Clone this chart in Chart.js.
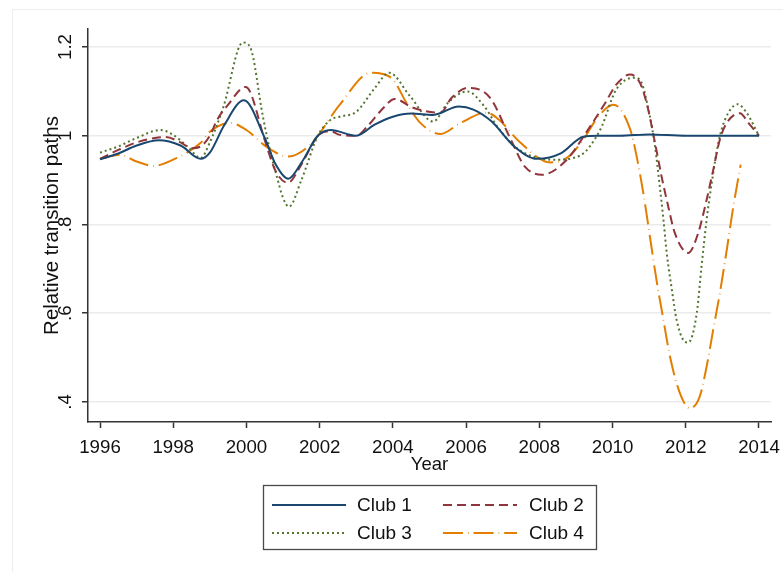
<!DOCTYPE html>
<html>
<head>
<meta charset="utf-8">
<script src="https://cdn.jsdelivr.net/npm/chart.js@4.4.1/dist/chart.umd.min.js"></script>
<style>
  html, body { margin: 0; padding: 0; background: #ffffff; }
  #wrap { width: 783px; height: 572px; position: relative; }
</style>
</head>
<body>
<div id="wrap"><canvas id="c" width="783" height="572"></canvas></div>
<script>
// Relative transition paths of four convergence clubs, 1996-2014
const clubNames = ['Club 1', 'Club 2', 'Club 3', 'Club 4'];

const yearTicks = [1996, 1998, 2000, 2002, 2004, 2006, 2008, 2010, 2012, 2014];
const valueTicks = [0.4, 0.6, 0.8, 1.0, 1.2];
const valueLabels = ['.4', '.6', '.8', '1', '1.2'];

const club1Years = [1996, 1996.5, 1997, 1997.6, 1998.2, 1998.75, 1999.0, 1999.4, 1999.93, 2000.5, 2000.8, 2001.14, 2001.5, 2001.95, 2002.3, 2003.0, 2003.5, 2004.0, 2004.5, 2005.1, 2005.8, 2006.2, 2006.7, 2007.3, 2007.94, 2008.6, 2009.2, 2009.6, 2010.2, 2011.0, 2012.0, 2013.0, 2014.0];
const club1Values = [0.947, 0.960, 0.978, 0.990, 0.978, 0.948, 0.962, 1.025, 1.080, 0.995, 0.935, 0.903, 0.939, 1.000, 1.013, 1.000, 1.025, 1.043, 1.050, 1.047, 1.066, 1.059, 1.032, 0.977, 0.948, 0.961, 0.998, 1.000, 1.000, 1.003, 1.000, 1.000, 1.000];

const club2Years = [1996, 1996.5, 1997, 1997.5, 1997.8, 1998.2, 1998.5, 1998.75, 1999.0, 1999.2, 1999.5, 1999.97, 2000.1, 2000.5, 2000.8, 2001.13, 2001.5, 2001.95, 2002.3, 2002.55, 2003.0, 2003.3, 2003.7, 2004.05, 2004.55, 2005.3, 2005.6, 2006.05, 2006.65, 2007.2, 2007.6, 2008.07, 2008.75, 2009.3, 2009.8, 2010.1, 2010.48, 2010.75, 2010.93, 2011.16, 2011.34, 2011.52, 2011.7, 2012.07, 2012.34, 2012.57, 2012.75, 2012.93, 2013.12, 2013.48, 2013.71, 2014];
const club2Values = [0.948, 0.968, 0.985, 0.995, 0.997, 0.985, 0.972, 0.976, 1.000, 1.036, 1.070, 1.110, 1.099, 0.990, 0.920, 0.894, 0.935, 1.000, 1.010, 1.002, 1.000, 1.021, 1.059, 1.083, 1.063, 1.052, 1.085, 1.108, 1.086, 0.995, 0.931, 0.912, 0.946, 1.010, 1.074, 1.115, 1.138, 1.119, 1.074, 0.984, 0.908, 0.841, 0.781, 0.736, 0.781, 0.856, 0.923, 0.991, 1.029, 1.051, 1.029, 1.000];

const club3Years = [1996, 1996.5, 1997, 1997.65, 1998.0, 1998.4, 1998.75, 1999.0, 1999.37, 1999.9, 2000.1, 2000.45, 2000.64, 2000.83, 2001.0, 2001.16, 2001.5, 2001.95, 2002.3, 2002.55, 2003.0, 2003.5, 2003.9, 2004.47, 2005.1, 2005.5, 2006.03, 2006.5, 2006.85, 2007.4, 2008.4, 2009.1, 2009.66, 2010.1, 2010.6, 2010.75, 2011.02, 2011.16, 2011.29, 2011.39, 2011.48, 2011.62, 2011.75, 2011.93, 2012.07, 2012.3, 2012.43, 2012.57, 2012.71, 2012.89, 2013.07, 2013.42, 2013.66, 2014];
const club3Values = [0.962, 0.976, 0.995, 1.013, 1.002, 0.975, 0.950, 0.985, 1.065, 1.210, 1.200, 1.043, 0.968, 0.908, 0.860, 0.840, 0.900, 1.000, 1.036, 1.043, 1.054, 1.107, 1.142, 1.089, 1.032, 1.074, 1.100, 1.066, 1.021, 0.971, 0.946, 0.955, 1.013, 1.104, 1.131, 1.126, 1.044, 0.976, 0.886, 0.811, 0.736, 0.653, 0.585, 0.540, 0.534, 0.600, 0.705, 0.811, 0.894, 0.984, 1.036, 1.071, 1.052, 1.000];

const club4Years = [1996, 1996.55, 1997, 1997.45, 1998.1, 1998.75, 1999.0, 1999.55, 2000.0, 2000.55, 2001.15, 2001.75, 2001.95, 2002.55, 2003.4, 2003.95, 2004.4, 2004.75, 2005.3, 2005.85, 2006.55, 2006.9, 2007.45, 2008.3, 2008.75, 2009.2, 2009.58, 2010.02, 2010.48, 2010.66, 2010.84, 2011.02, 2011.2, 2011.39, 2011.57, 2011.84, 2012.11, 2012.38, 2012.57, 2012.75, 2012.93, 2013.12, 2013.3, 2013.5];
const club4Values = [0.948, 0.957, 0.942, 0.932, 0.950, 0.984, 1.009, 1.029, 1.013, 0.975, 0.953, 0.980, 1.000, 1.070, 1.142, 1.131, 1.070, 1.029, 1.004, 1.029, 1.052, 1.036, 0.987, 0.940, 0.950, 0.991, 1.040, 1.070, 1.015, 0.953, 0.871, 0.773, 0.675, 0.585, 0.502, 0.420, 0.386, 0.412, 0.480, 0.563, 0.645, 0.743, 0.841, 0.935];

const seriesYears = [club1Years, club2Years, club3Years, club4Years];
const seriesValues = [club1Values, club2Values, club3Values, club4Values];

// Line styles per club
const lineColors = ['#1a476f', '#90353b', '#55752f', '#e37e00'];
const lineDashes = [[], [9, 5], [2, 3], [20, 5, 0.6, 5]];

const FONT = '"Liberation Sans", Arial, Helvetica, sans-serif';
const TEXT = '#111111';
const AXIS = '#333333';

const datasets = clubNames.map((name, k) => ({
  label: name,
  data: seriesYears[k].map((yr, i) => ({ x: yr, y: seriesValues[k][i] })),
  borderColor: lineColors[k],
  backgroundColor: lineColors[k],
  borderWidth: 2,
  borderDash: lineDashes[k],
  pointRadius: 0,
  pointHoverRadius: 0,
  fill: false,
  cubicInterpolationMode: 'monotone'
}));

// Faint outer frame of the graph region
const outerFrame = {
  id: 'outerFrame',
  beforeDraw(chart) {
    const ctx = chart.ctx;
    ctx.save();
    ctx.fillStyle = '#ffffff';
    ctx.fillRect(0, 0, chart.width, chart.height);
    ctx.strokeStyle = '#eeeeee';
    ctx.lineWidth = 1;
    ctx.strokeRect(12.5, 9.5, chart.width, chart.height + 20);
    ctx.restore();
  }
};

// Boxed two-column legend under the x-axis title
const boxedLegend = {
  id: 'boxedLegend',
  afterDraw(chart) {
    const ctx = chart.ctx;
    const bx = 263.5, by = 485.5, bw = 333, bh = 64;
    ctx.save();
    ctx.strokeStyle = '#4a4a4a';
    ctx.lineWidth = 1.3;
    ctx.setLineDash([]);
    ctx.strokeRect(bx, by, bw, bh);
    const colX = [272, 443];
    const textX = [357, 529];
    const rowY = [505, 533];
    chart.data.datasets.forEach((ds, k) => {
      const c = k % 2, r = Math.floor(k / 2);
      ctx.beginPath();
      ctx.strokeStyle = ds.borderColor;
      ctx.lineWidth = ds.borderWidth;
      ctx.setLineDash(ds.borderDash || []);
      ctx.moveTo(colX[c], rowY[r]);
      ctx.lineTo(colX[c] + 74, rowY[r]);
      ctx.stroke();
      ctx.setLineDash([]);
      ctx.fillStyle = TEXT;
      ctx.font = '19px ' + FONT;
      ctx.textAlign = 'left';
      ctx.textBaseline = 'middle';
      ctx.fillText(ds.label, textX[c], rowY[r] + 1);
    });
    ctx.restore();
  }
};

new Chart(document.getElementById('c'), {
  type: 'line',
  data: { datasets },
  plugins: [outerFrame, boxedLegend],
  options: {
    responsive: false,
    devicePixelRatio: 1,
    animation: false,
    layout: { padding: { top: 29, right: 12, bottom: 95.6, left: 0 } },
    plugins: {
      legend: { display: false },
      tooltip: { enabled: false },
      title: { display: false }
    },
    scales: {
      x: {
        type: 'linear',
        min: 1995.672,
        max: 2014.328,
        afterBuildTicks: s => { s.ticks = yearTicks.map(v => ({ value: v })); },
        afterFit: s => { s.height = 54.4; s.paddingLeft = 0; s.paddingRight = 0; },
        ticks: {
          autoSkip: false,
          maxRotation: 0,
          minRotation: 0,
          padding: 9,
          color: TEXT,
          font: { family: FONT, size: 18.7 },
          callback: v => String(v)
        },
        grid: { drawOnChartArea: false, tickColor: AXIS, tickLength: 6, tickWidth: 1.5 },
        border: { color: AXIS, width: 1.5 },
        title: {
          display: true,
          text: 'Year',
          color: TEXT,
          font: { family: FONT, size: 18.5 },
          padding: { top: 0, bottom: 0 }
        }
      },
      y: {
        type: 'linear',
        min: 0.3549,
        max: 1.2406,
        afterBuildTicks: s => { s.ticks = valueTicks.map(v => ({ value: v })); },
        afterFit: s => { s.width = 88; s.paddingTop = 0; s.paddingBottom = 0; },
        ticks: {
          minRotation: 90,
          maxRotation: 90,
          crossAlign: 'center',
          padding: 3,
          color: TEXT,
          font: { family: FONT, size: 18.7 },
          callback: (v, i) => valueLabels[i]
        },
        grid: { color: '#ebebeb', lineWidth: 1.5, tickColor: AXIS, tickLength: 6, tickWidth: 1.5 },
        border: { color: AXIS, width: 1.5 },
        title: {
          display: true,
          text: 'Relative transition paths',
          color: TEXT,
          font: { family: FONT, size: 20.5 },
          padding: { top: 39.7, bottom: 0 }
        }
      }
    }
  }
});
</script>
</body>
</html>
